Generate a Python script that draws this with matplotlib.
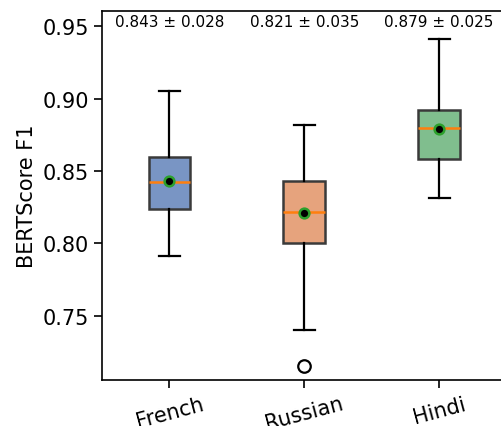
import matplotlib
matplotlib.use("Agg")
import matplotlib.pyplot as plt

languages = ["French", "Russian", "Hindi"]
q1 = [0.824, 0.800, 0.858]
median = [0.8426, 0.8216, 0.880]
q3 = [0.8596, 0.843, 0.892]
whislo = [0.791, 0.7405, 0.8315]
whishi = [0.905, 0.882, 0.941]
means = [0.843, 0.821, 0.879]
stds = [0.028, 0.035, 0.025]
outliers = [[], [0.715], []]
colors = ["#4C72B0", "#DD8452", "#55A868"]

fig = plt.figure(figsize=(5.01, 4.27), dpi=100)
ax = fig.add_axes([0.2036, 0.1077, 0.8074, 0.8642])

stats = []
for i, lang in enumerate(languages):
    stats.append(dict(label=lang, q1=q1[i], med=median[i], q3=q3[i],
                      whislo=whislo[i], whishi=whishi[i], mean=means[i],
                      fliers=outliers[i]))

bp = ax.bxp(stats, positions=[1, 2, 3], widths=0.31, patch_artist=True,
            showmeans=True,
            boxprops=dict(edgecolor="#3a3a3a", linewidth=1.8),
            whiskerprops=dict(color="black", linewidth=1.6),
            capprops=dict(color="black", linewidth=1.6),
            medianprops=dict(color="#ff7f0e", linewidth=1.8),
            meanprops=dict(marker="o", markerfacecolor="black",
                           markeredgecolor="#2ca02c", markersize=7,
                           markeredgewidth=1.8),
            flierprops=dict(marker="o", markerfacecolor="none",
                            markeredgecolor="black", markersize=9,
                            markeredgewidth=1.6))
for patch, c in zip(bp["boxes"], colors):
    r, g, b = matplotlib.colors.to_rgb(c)
    a = 0.75
    patch.set_facecolor((r * a + (1 - a), g * a + (1 - a), b * a + (1 - a)))

ax.set_xlim(0.5, 3.5)
ax.set_ylim(0.7056, 0.9606)
ax.set_yticks([0.75, 0.80, 0.85, 0.90, 0.95])
ax.set_yticklabels(["0.75", "0.80", "0.85", "0.90", "0.95"])
ax.set_xticks([1, 2, 3])
ax.set_xticklabels(languages, rotation=15)
ax.tick_params(axis="both", labelsize=15, length=6, width=1.2)
ax.set_ylabel("BERTScore F1", fontsize=15)
for s in ax.spines.values():
    s.set_linewidth(1.2)

for i in range(3):
    ax.text(i + 1, 0.9535, f"{means[i]:.3f} ± {stds[i]:.3f}",
            ha="center", va="center", fontsize=11)

fig.savefig("out.png", dpi=100)
